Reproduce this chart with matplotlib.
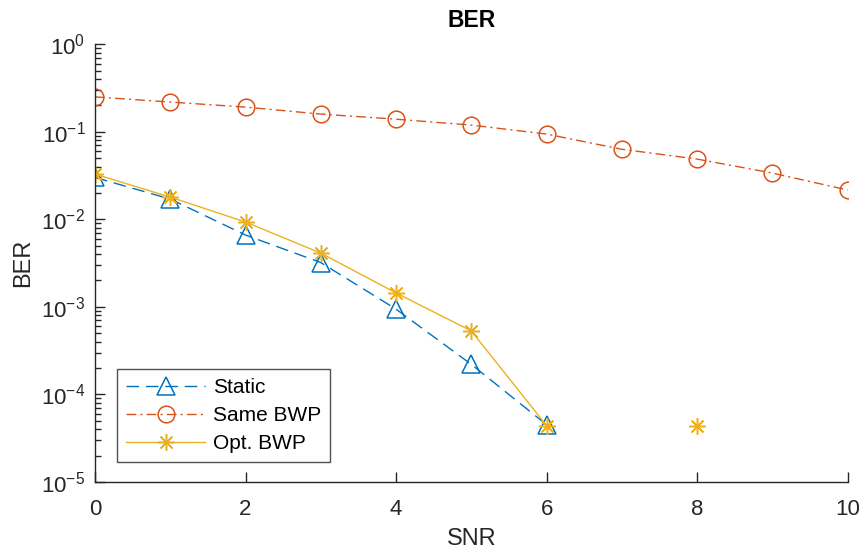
import numpy as np
import matplotlib
matplotlib.use('Agg')
import matplotlib.pyplot as plt

plt.rcParams['font.family'] = ['Liberation Sans', 'DejaVu Sans']
plt.rcParams['mathtext.fontset'] = 'custom'
plt.rcParams['mathtext.rm'] = 'Liberation Sans'
plt.rcParams['mathtext.it'] = 'Liberation Sans:italic'
plt.rcParams['mathtext.bf'] = 'Liberation Sans:bold'

# ── data: BER vs SNR (0 = no errors, not shown on log axis) ──
snr = [0, 1, 2, 3, 4, 5, 6, 7, 8, 9, 10]
ber_static = [0.030, 0.0170, 0.0066, 0.0032, 9.4e-4, 2.2e-4, 4.5e-5, 0, 0, 0, 0]
ber_same = [0.250, 0.218, 0.191, 0.159, 0.139, 0.119, 0.094, 0.063, 0.0487, 0.0337, 0.0216]
ber_opt = [0.0328, 0.0179, 0.0093, 0.0041, 0.00144, 5.3e-4, 4.4e-5, 0, 4.4e-5, 0, 0]

def nz(v):
    v = np.asarray(v, dtype=float)
    return np.where(v > 0, v, np.nan)

fig = plt.figure(figsize=(8.64, 5.52), dpi=100)
ax = fig.add_axes([0.110, 0.127, 0.871, 0.793])

ax.semilogy(snr, nz(ber_static), color='#0072BD', marker='^', ms=13,
            mfc='none', mew=1.1, lw=1.0, dashes=(9, 5), label='Static')
ax.semilogy(snr, nz(ber_same), color='#D95319', marker='o', ms=12,
            mfc='none', mew=1.1, lw=1.0, dashes=(7, 3, 1.5, 3), label='Same BWP')
ax.semilogy(snr, nz(ber_opt), '-', color='#EDB120', marker=(8, 2, 0), ms=12,
            mew=1.1, lw=1.0, label='Opt. BWP')

ax.set_xlim(0, 10)
ax.set_ylim(1e-5, 1)
ax.set_xticks([0, 2, 4, 6, 8, 10])
ax.set_yticks([1e-5, 1e-4, 1e-3, 1e-2, 1e-1, 1])
ax.tick_params(axis='both', which='both', direction='in', colors='#262626',
               labelsize=16, width=1.0)
ax.tick_params(axis='both', which='major', length=7)
ax.tick_params(axis='x', which='major', pad=12)
ax.tick_params(axis='y', which='major', pad=7)
ax.tick_params(axis='y', which='minor', length=4)
ax.tick_params(axis='x', which='minor', bottom=False)
for s in ['top', 'right']:
    ax.spines[s].set_visible(False)
for s in ['left', 'bottom']:
    ax.spines[s].set_color('#262626')
    ax.spines[s].set_linewidth(1.0)

ax.set_xlabel('SNR', fontsize=17, color='#262626', labelpad=6)
ax.set_ylabel('BER', fontsize=17, color='#262626', labelpad=5)
ax.set_title('BER', fontsize=16.5, fontweight='bold', pad=12)

leg = ax.legend(loc='lower left', bbox_to_anchor=(0.029, 0.045), fontsize=15,
                frameon=True, fancybox=False, edgecolor='#262626',
                handlelength=3.8, handletextpad=0.35, borderpad=0.45,
                labelspacing=0.42, borderaxespad=0)
leg.get_frame().set_linewidth(1.0)

plt.savefig('out.png', dpi=100)
plt.close()
